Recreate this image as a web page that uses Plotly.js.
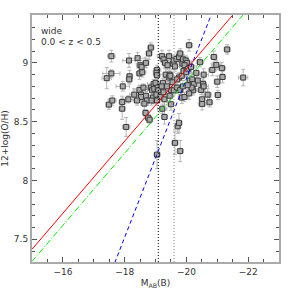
<!DOCTYPE html>
<html><head><meta charset="utf-8">
<script src="https://cdn.plot.ly/plotly-3.0.1.min.js"></script>
<style>html,body{margin:0;padding:0;background:#fff}</style>
</head><body><div id="chart" style="width:294px;height:294px"></div>
<script>
// Galaxy points: absolute B magnitude and oxygen abundance
const magB = [-17.57,-17.57,-17.42,-17.49,-17.60,-17.94,-17.92,-17.92,-18.05,-18.12,
  -18.14,-18.16,-18.15,-18.42,-18.51,-18.55,-18.48,-18.57,-18.69,-18.79,
  -18.85,-18.48,-18.61,-18.53,-18.69,-18.53,-18.31,-18.40,-18.68,-18.76,
  -18.81,-18.85,-18.89,-18.94,-19.00,-19.05,-19.03,-19.05,-18.96,-19.07,
  -19.09,-18.92,-19.03,-19.16,-19.05,-19.21,-19.26,-19.31,-19.33,-19.24,
  -19.20,-19.26,-19.29,-19.22,-19.29,-19.39,-19.44,-19.46,-19.44,-19.48,
  -19.50,-19.55,-19.57,-19.59,-19.63,-19.68,-19.76,-19.80,-19.87,-19.89,
  -19.98,-20.02,-20.09,-19.94,-19.76,-19.70,-19.85,-19.91,-20.00,-20.06,
  -20.15,-20.11,-20.19,-20.24,-20.32,-20.37,-20.44,-20.54,-20.56,-20.48,
  -20.51,-20.51,-20.56,-20.69,-20.75,-20.89,-20.84,-20.97,-21.00,-21.02,
  -21.15,-21.17,-21.32,-21.84,-19.59,-19.70,-19.80,-19.85,-19.94,-19.89,
  -19.63,-19.72,-19.76,-19.80,-19.50,-19.46,-19.37,-20.22,-20.09,-20.17,
  -20.04,-18.72,-18.64,-19.05,-18.87];
const oh = [9.057,8.91,8.87,8.645,8.68,8.80,8.667,8.61,8.455,8.69,
  9.02,8.886,8.86,9.04,8.98,8.966,8.91,8.92,9.00,9.08,
  9.13,8.77,8.79,8.73,8.72,8.71,8.73,8.68,8.574,8.534,
  8.517,8.79,8.767,8.82,8.83,8.94,8.915,8.895,8.78,8.79,
  8.767,8.705,8.73,8.71,8.22,9.057,9.03,9.00,8.90,8.83,
  8.80,8.75,8.69,8.61,8.54,8.98,9.057,8.90,8.875,8.89,
  8.77,8.835,8.994,9.02,8.97,9.034,9.05,9.08,8.994,9.03,
  9.02,9.00,9.15,8.98,8.875,8.86,8.89,8.93,8.92,8.95,
  8.966,8.85,8.86,8.82,8.915,8.85,9.006,8.82,8.90,8.77,
  8.69,8.65,8.80,8.73,8.665,9.05,8.94,8.983,8.84,8.727,
  8.955,8.88,9.114,8.875,8.767,8.79,8.77,8.705,8.71,8.80,
  8.32,8.46,8.49,8.25,8.648,8.72,8.80,8.767,8.74,8.79,
  8.81,8.68,8.653,8.68,8.68];
const magErr = [0.12,0.28,0.15,0.10,0.12,0.22,0.10,0.10,0.12,0.15,
  0.20,0.10,0.10,0.25,0.12,0.15,0.10,0.12,0.10,0.10,
  0.10,0.20,0.15,0.12,0.10,0.18,0.15,0.12,0.10,0.10,
  0.10,0.12,0.15,0.20,0.10,0.12,0.10,0.10,0.15,0.10,
  0.12,0.10,0.15,0.10,0.10,0.15,0.12,0.10,0.20,0.10,
  0.12,0.10,0.10,0.15,0.10,0.12,0.10,0.10,0.15,0.10,
  0.10,0.12,0.10,0.10,0.15,0.10,0.12,0.10,0.10,0.12,
  0.10,0.15,0.10,0.12,0.10,0.10,0.12,0.10,0.15,0.10,
  0.12,0.10,0.15,0.12,0.10,0.15,0.12,0.10,0.15,0.12,
  0.10,0.12,0.15,0.12,0.10,0.10,0.12,0.15,0.10,0.10,
  0.12,0.10,0.10,0.15,0.10,0.12,0.10,0.10,0.12,0.10,
  0.10,0.10,0.10,0.10,0.10,0.12,0.10,0.12,0.10,0.10,
  0.12,0.15,0.12,0.10,0.10];
const ohErr = [0.05,0.03,0.09,0.04,0.04,0.04,0.05,0.09,0.08,0.03,
  0.06,0.05,0.04,0.05,0.04,0.03,0.05,0.04,0.04,0.05,
  0.04,0.04,0.03,0.05,0.04,0.03,0.05,0.04,0.03,0.04,
  0.03,0.03,0.04,0.04,0.05,0.04,0.03,0.04,0.04,0.03,
  0.04,0.05,0.04,0.03,0.12,0.05,0.04,0.05,0.06,0.04,
  0.04,0.05,0.05,0.04,0.06,0.04,0.05,0.05,0.04,0.04,
  0.05,0.04,0.05,0.04,0.04,0.05,0.05,0.04,0.04,0.04,
  0.04,0.05,0.05,0.04,0.04,0.05,0.04,0.05,0.04,0.04,
  0.05,0.04,0.05,0.04,0.06,0.05,0.04,0.05,0.05,0.04,
  0.06,0.05,0.04,0.05,0.04,0.05,0.05,0.04,0.05,0.04,
  0.05,0.05,0.04,0.07,0.04,0.05,0.04,0.05,0.04,0.05,
  0.10,0.06,0.08,0.09,0.05,0.05,0.04,0.04,0.05,0.04,
  0.04,0.04,0.05,0.04,0.04];
// Fit lines (endpoints in data units)
const redX = [-15, -21.50], redY = [7.415, 9.406];
const greenX = [-15, -21.83], greenY = [7.312, 9.406];
const blueX = [-17.68, -20.80], blueY = [7.30, 9.406];
const limBlack = -19.09, limGray = -19.60;
const yRange = [7.307, 9.407];

const traces = [
  {x: magB, y: oh, type: 'scatter', mode: 'markers',
   marker: {symbol: 'square', size: 5, color: '#a8a8a8', line: {color: '#3a3a3a', width: 1}},
   error_x: {type: 'data', array: magErr, color: '#b5b5b5', thickness: 1, width: 2},
   error_y: {type: 'data', array: ohErr, color: '#b5b5b5', thickness: 1, width: 2},
   hoverinfo: 'skip'},
  {x: [limBlack, limBlack], y: yRange, mode: 'lines', line: {color: '#000', width: 1, dash: '1px,2px'}},
  {x: [limGray, limGray], y: yRange, mode: 'lines', line: {color: '#888', width: 1, dash: '1px,2px'}},
  {x: redX, y: redY, mode: 'lines', line: {color: '#ff0000', width: 1}},
  {x: greenX, y: greenY, mode: 'lines', line: {color: '#00ee00', width: 1, dash: '6px,2px,1px,2px'}},
  {x: blueX, y: blueY, mode: 'lines', line: {color: '#0000ff', width: 1, dash: '4px,3px'}}
];
const font = {family: 'DejaVu Sans, sans-serif', size: 9, color: '#333'};
const layout = {
  width: 294, height: 294, showlegend: false,
  margin: {l: 32, r: 15, t: 15, b: 32},
  paper_bgcolor: '#fff', plot_bgcolor: '#fff', font: font,
  xaxis: {range: [-15, -23], showgrid: false, zeroline: false,
    ticks: 'inside', ticklen: 5, tickcolor: '#555', tickwidth: 1, dtick: 2, tick0: -16,
    minor: {dtick: 0.5, ticks: 'inside', ticklen: 3, tickcolor: '#555', showgrid: false},
    showline: true, linecolor: '#aaa', linewidth: 2, mirror: 'ticks',
    title: {text: 'M<sub>AB</sub>(B)', font: font, standoff: 4}},
  yaxis: {range: yRange, showgrid: false, zeroline: false,
    ticks: 'inside', ticklen: 5, tickcolor: '#555', tickwidth: 1, dtick: 0.5, tick0: 7.5,
    minor: {dtick: 0.1, ticks: 'inside', ticklen: 3, tickcolor: '#555', showgrid: false},
    showline: true, linecolor: '#aaa', linewidth: 2, mirror: 'ticks',
    title: {text: '12+log(O/H)', font: font, standoff: 6}},
  annotations: [
    {text: 'wide', xref: 'paper', yref: 'paper', x: 0.03, y: 0.935, xanchor: 'left', yanchor: 'middle', showarrow: false, font: font},
    {text: '0.0 &lt; z &lt; 0.5', xref: 'paper', yref: 'paper', x: 0.03, y: 0.89, xanchor: 'left', yanchor: 'middle', showarrow: false, font: font}
  ]
};
Plotly.newPlot('chart', traces, layout, {displayModeBar: false, staticPlot: true});
</script></body></html>
